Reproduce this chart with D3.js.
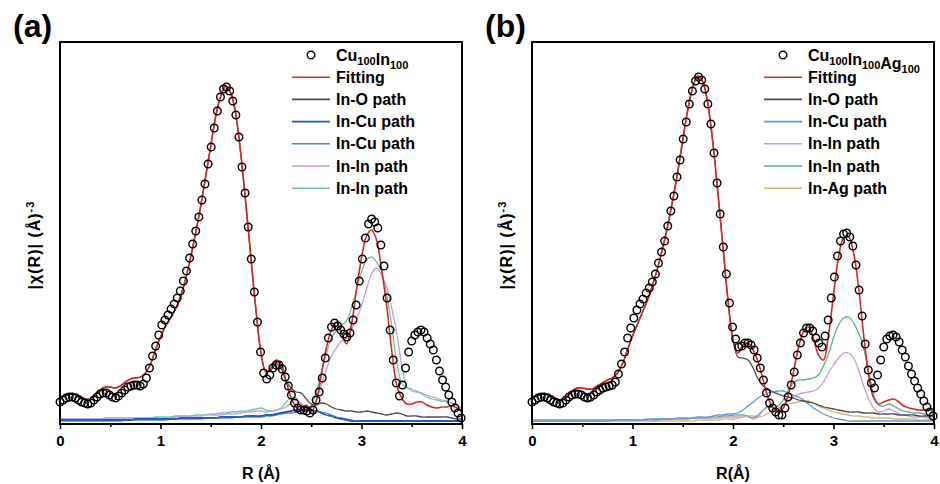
<!DOCTYPE html>
<html>
<head>
<meta charset="utf-8">
<script src="https://cdn.jsdelivr.net/npm/d3@7.9.0/dist/d3.min.js"></script>
<style>
  body { margin: 0; background: #fff; }
  svg { display: block; font-family: "Liberation Sans", Arial, sans-serif; }
</style>
</head>
<body>
<svg id="chart" width="940" height="484"></svg>
<script>
// R grids: measured points every 0.0307 A, fitted / path curves every 0.05 A
const dataR = d3.range(131).map(i => i * 0.0307);
const fitR = d3.range(81).map(k => k * 0.05);
const xTicks = [0, 1, 2, 3, 4];
const xMinorTicks = [0.5, 1.5, 2.5, 3.5];

// ---- panel (a) Cu100In100 ----
const circlesA = [22,24,26,27,27,26,24,22,21,20, 21,24,27,30,31,31,29,27,26,28,
  31,34,37,38,39,39,38,40,46,56, 68,78,89,99,104,109,115,120,126,133,
  143,153,166,180,193,207,224,240,260,277, 296,313,327,335,337,333,323,309,287,257,
  231,197,165,132,102,72,51,45,49,56, 59,59,55,47,38,29,21,16,14,14,
  13,11,14,24,32,46,66,86,97,101, 98,94,90,87,91,104,119,143,165,186,
  200,205,202,196,179,158,126,94,64,41, 28,39,56,72,83,89,92,94,92,86,
  80,74,64,53,44,37,29,22,16,11, 6];
const fitA = [26,28,30,30,28,25,25,29,34,37, 37,36,38,42,45,46,47,51,60,74,
  87,98,106,115,128,145,167,191,218,248, 278,308,328,338,331,309,269,219,166,114,
  71,52,56,64,60,43,26,17,14,19, 12,23,49,76,94,102,91,80,99,134,
  166,188,194,184,154,119,74,39,26,20, 20,22,22,19,17,16,17,17,18,16, 12];
const inOA = [26,28,30,30,28,25,25,29,34,37, 37,36,38,42,45,46,47,51,60,74,
  87,98,106,115,128,145,167,191,218,248, 278,308,328,338,331,309,269,219,166,114,
  71,52,54,60,56,43,36,32,31,25, 20,19,21,20,17,15,14,13,13,12,
  12,13,12,11,10,9,10,11,10,8, 8,8,7,7,7,7,7,7,6,5, 5];
const inCuA1 = [4,4,4,4,4,4,4,4,4,4, 4,4,4,4,4,5,5,5,5,5,
  5,5,5,5,6,6,6,6,6,6, 6,6,7,7,7,7,7,8,8,8,
  8,9,9,10,11,12,13,14,14,14, 14,13,11,9,8,6,5,4,3,3,
  3,3,3,3,3,3,3,3,3,3, 3,3,3,3,3,3,3,3,3,3, 3];
const inCuA2 = [3,3,3,3,3,3,3,3,3,3, 3,3,3,4,4,4,4,4,4,4,
  4,4,5,5,5,5,5,5,5,6, 6,6,6,6,6,7,7,7,7,7,
  7,8,8,9,10,11,11,12,13,13, 13,13,12,11,9,7,6,5,4,3,
  3,3,3,3,3,3,3,3,3,3, 3,3,3,3,3,3,3,3,3,3, 3];
const inInA1 = [5,5,5,5,5,5,5,5,5,5, 5,5,5,5,5,5,6,6,6,6,
  6,6,6,7,7,7,8,8,8,9, 9,9,9,10,10,10,11,12,12,13,
  13,12,13,14,15,17,21,24,21,15, 16,24,39,54,68,76,83,86,95,105,
  118,135,150,156,149,137,116,91,59,38, 33,32,31,29,27,26,24,23,21,19, 16];
const inInA2 = [5,5,5,5,5,5,5,5,5,6, 6,6,6,6,6,6,6,6,6,7,
  7,7,7,8,8,8,8,9,9,9, 10,10,11,11,12,12,13,13,14,15,
  16,14,13,14,16,22,27,26,19,16, 19,32,52,70,86,94,99,103,116,134,
  152,164,167,162,152,129,99,62,41,36, 35,33,30,27,25,24,23,22,21,19, 15];

// ---- panel (b) Cu100In100Ag100 ----
const circlesB = [22,24,26,27,27,26,24,22,21,20, 21,24,27,29,30,30,29,27,26,27,
  29,32,34,36,37,38,39,42,50,60, 72,86,96,106,114,120,125,131,136,142,
  150,161,172,183,198,213,228,247,264,285, 302,320,333,343,347,344,335,320,300,271,
  241,210,177,150,121,97,85,77,78,81, 81,79,74,66,56,44,31,21,16,12,
  9,9,16,27,39,52,69,81,91,96, 96,93,86,81,77,88,104,126,147,168,
  183,190,191,187,178,159,134,108,80,54, 41,36,49,64,77,85,88,89,87,82,
  74,67,58,50,43,36,30,23,17,12, 8];
const fitB = [26,28,30,30,28,25,24,27,33,36, 36,35,35,38,41,44,46,51,60,74,
  88,100,112,124,139,156,176,198,224,252, 284,314,337,348,342,320,281,231,177,124,
  84,71,79,81,74,62,44,26,16,13, 16,29,51,76,92,97,86,69,64,89,
  129,167,186,187,171,136,89,49,26,20, 22,24,25,22,18,16,15,14,14,15, 11];
const inOB = [26,28,30,30,28,25,24,27,33,36, 36,35,35,38,41,44,46,51,60,74,
  88,100,112,124,139,156,176,198,224,252, 284,314,337,348,342,320,281,231,177,124,
  84,67,66,64,56,45,38,35,32,30, 28,27,26,24,23,22,21,19,17,16,
  15,14,13,12,12,12,11,11,11,10, 10,10,10,9,9,9,9,8,8,8, 8];
const inCuB = [3,3,3,3,3,3,3,3,3,3, 3,3,3,3,3,3,4,4,4,4,
  4,4,4,5,5,5,5,5,5,6, 6,6,6,7,7,7,8,9,9,10,
  10,11,14,18,22,26,29,31,32,33, 33,31,29,27,24,20,16,13,10,8,
  6,5,4,3,3,3,3,3,3,3, 3,3,3,3,3,3,3,3,3,3, 3];
const inInB1 = [3,3,3,3,3,3,3,3,3,3, 3,3,3,3,3,3,4,4,4,4,
  4,4,4,4,4,5,5,5,5,5, 5,5,6,6,6,6,6,6,7,7,
  7,8,8,7,5,7,14,19,18,15, 18,23,27,30,31,32,33,36,42,51,
  59,66,71,71,66,54,38,25,16,12, 13,15,13,10,9,8,7,7,7,6, 6];
const inInB2 = [4,4,4,4,4,4,4,4,4,4, 4,4,4,4,4,4,4,4,4,4,
  4,4,4,4,4,4,5,5,5,5, 5,5,6,6,6,6,7,7,8,8,
  9,9,9,8,6,9,14,17,16,18, 24,34,41,44,44,45,46,49,58,70,
  86,99,106,107,101,91,76,52,29,19, 18,20,18,15,13,12,11,11,10,9, 8];
const inAgB = [3,3,3,3,3,3,3,3,3,3, 3,3,3,3,3,3,3,3,3,3,
  3,3,3,3,3,3,3,3,3,3, 3,3,3,4,4,4,4,4,5,5,
  5,6,7,8,8,7,8,11,14,16, 18,20,21,22,23,23,21,18,16,14,
  12,11,10,9,8,8,7,7,6,6, 6,6,5,5,5,5,5,4,4,4, 4];

const panels = [
  {
    left: 60, tag: '(a)', xTitle: 'R (\u00c5)',
    sample: [['Cu', '100'], ['In', '100']],
    measured: circlesA, fit: fitA,
    paths: [
      { name: 'In-O path', values: inOA, color: '#4d4d4d', width: 1.3 },
      { name: 'In-Cu path', values: inCuA1, color: '#1f5cc4', width: 1.8 },
      { name: 'In-Cu path', values: inCuA2, color: '#5089c9', width: 1.3 },
      { name: 'In-In path', values: inInA1, color: '#c79ddd', width: 1.3 },
      { name: 'In-In path', values: inInA2, color: '#6cc4a4', width: 1.3 }
    ]
  },
  {
    left: 532, tag: '(b)', xTitle: 'R(\u00c5)',
    sample: [['Cu', '100'], ['In', '100'], ['Ag', '100']],
    measured: circlesB, fit: fitB,
    paths: [
      { name: 'In-O path', values: inOB, color: '#4d4d4d', width: 1.3 },
      { name: 'In-Cu path', values: inCuB, color: '#5b9bd5', width: 1.3 },
      { name: 'In-In path', values: inInB1, color: '#c79ddd', width: 1.3 },
      { name: 'In-In path', values: inInB2, color: '#55b585', width: 1.3 },
      { name: 'In-Ag path', values: inAgB, color: '#d9b56e', width: 1.3 }
    ]
  }
];

const fitColor = '#d62a23';
const svg = d3.select('#chart');

function drawPanel(p) {
  const x = d3.scaleLinear().domain([0, 4]).range([p.left, p.left + 402]);
  const y = d3.scaleLinear().domain([0, 382]).range([424, 42]);
  const g = svg.append('g');

  const line = d3.line()
    .x((d, i) => x(fitR[i]))
    .y(d => y(d))
    .curve(d3.curveCatmullRom);

  // component paths first, fit on top, then the measured circles
  p.paths.slice().reverse().forEach(s => {
    g.append('path')
      .attr('d', line(s.values))
      .attr('fill', 'none')
      .attr('stroke', s.color)
      .attr('stroke-width', s.width);
  });
  g.append('path')
    .attr('d', line(p.fit))
    .attr('fill', 'none')
    .attr('stroke', fitColor)
    .attr('stroke-width', 1.6);

  g.selectAll('circle.pt')
    .data(p.measured)
    .enter()
    .append('circle')
    .attr('class', 'pt')
    .attr('cx', (d, i) => x(dataR[i]))
    .attr('cy', d => y(d))
    .attr('r', 3.8)
    .attr('fill', 'none')
    .attr('stroke', '#000')
    .attr('stroke-width', 1.4);

  // frame
  g.append('rect')
    .attr('x', x(0)).attr('y', y(382))
    .attr('width', x(4) - x(0)).attr('height', y(0) - y(382))
    .attr('fill', 'none').attr('stroke', '#000').attr('stroke-width', 2);

  // x axis
  const ax = g.append('g')
    .attr('transform', `translate(0,${y(0)})`)
    .call(d3.axisBottom(x).tickValues(xTicks).tickSize(5).tickPadding(6).tickFormat(d3.format('d')));
  ax.select('.domain').remove();
  ax.selectAll('line').attr('stroke-width', 1.6);
  ax.selectAll('text')
    .attr('font-size', 15).attr('font-weight', 'bold').attr('fill', '#000')
    .attr('font-family', '"Liberation Sans", Arial, sans-serif');

  const axm = g.append('g')
    .attr('transform', `translate(0,${y(0)})`)
    .call(d3.axisBottom(x).tickValues(xMinorTicks).tickSize(3).tickFormat(''));
  axm.select('.domain').remove();
  axm.selectAll('line').attr('stroke-width', 1.6);

  g.append('text')
    .attr('x', (x(0) + x(4)) / 2).attr('y', 479)
    .attr('text-anchor', 'middle')
    .attr('font-size', 16).attr('font-weight', 'bold')
    .text(p.xTitle);

  // y title
  const yt = g.append('text')
    .attr('transform', `translate(${p.left - 20},245) rotate(-90)`)
    .attr('text-anchor', 'middle')
    .attr('font-size', 16).attr('font-weight', 'bold')
    .attr('letter-spacing', 1);
  yt.append('tspan').text('|\u03c7(R)| (\u00c5)');
  yt.append('tspan').attr('font-size', 11).attr('dy', -6).text('-3');

  // panel tag
  g.append('text')
    .attr('x', p.left - 47).attr('y', 37)
    .attr('font-size', 32).attr('font-weight', 'bold')
    .text(p.tag);

  // legend
  const lg = g.append('g').attr('transform', `translate(${p.left},0)`);
  const rowY = i => 55 + i * 22.2;
  lg.append('circle')
    .attr('cx', 251).attr('cy', rowY(0)).attr('r', 3.8)
    .attr('fill', 'none').attr('stroke', '#000').attr('stroke-width', 1.4);
  const st = lg.append('text')
    .attr('x', 276).attr('y', rowY(0) + 5.5)
    .attr('font-size', 16).attr('font-weight', 'bold');
  p.sample.forEach(([el, sub]) => {
    st.append('tspan').text(el);
    st.append('tspan').attr('font-size', 11).attr('dy', 4).text(sub);
    st.append('tspan').attr('dy', -4).text('');
  });

  const entries = [{ name: 'Fitting', color: fitColor }].concat(p.paths);
  entries.forEach((e, i) => {
    const yy = rowY(i + 1);
    lg.append('line')
      .attr('x1', 232).attr('x2', 270).attr('y1', yy).attr('y2', yy)
      .attr('stroke', e.color).attr('stroke-width', 1.6);
    lg.append('text')
      .attr('x', 276).attr('y', yy + 5.5)
      .attr('font-size', 16).attr('font-weight', 'bold')
      .text(e.name);
  });
}

panels.forEach(drawPanel);
</script>
</body>
</html>
